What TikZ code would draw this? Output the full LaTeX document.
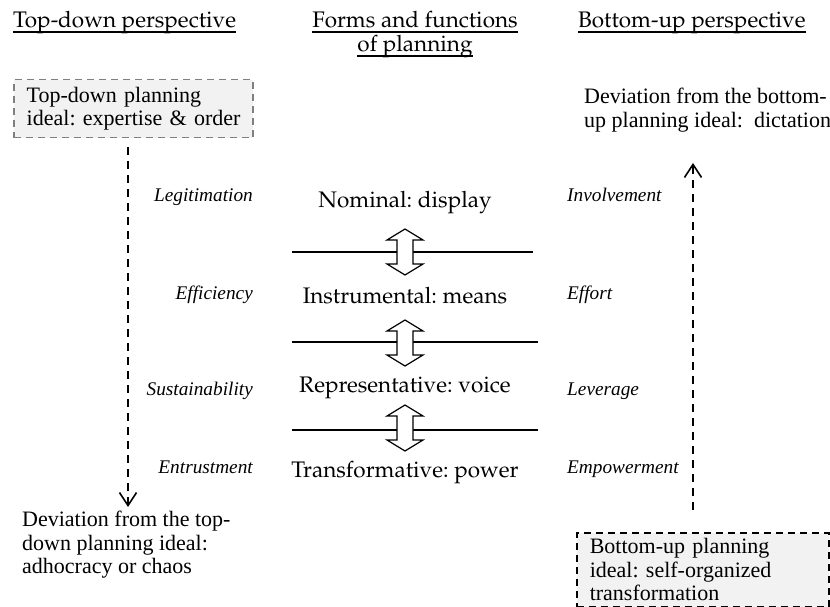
\documentclass[tikz,border=0pt]{standalone}
\usepackage{fontspec}
\setmainfont{Liberation Serif}
\newfontfamily\timesfont{Liberation Serif}
\usepackage[T1,TU]{fontenc}
\usepackage{tikz}
\usetikzlibrary{arrows.meta,positioning,calc}
\definecolor{boxfill}{HTML}{F2F2F2}
\definecolor{boxgray}{HTML}{7F7F7F}
\newcommand{\palfont}{\fontencoding{T1}\fontfamily{ppl}\selectfont}

\begin{document}
\begin{tikzpicture}[x=1pt,y=-1pt,
    every node/.style={inner sep=0pt, font=\timesfont\fontsize{22}{23.5}\selectfont\frenchspacing},
    heading/.style={font=\palfont\fontsize{22.5}{24}\selectfont},
    level/.style={font=\palfont\fontsize{22.5}{24}\selectfont\frenchspacing},
    aspect/.style={font=\timesfont\fontsize{19.3}{22}\selectfont\itshape},
    idealbox/.style={draw, fill=boxfill, line width=1.5pt, dash pattern=on 7pt off 5pt, align=left, inner xsep=13pt, inner ysep=0pt},
    flow/.style={line width=1.8pt, dash pattern=on 8pt off 6pt, -{Straight Barb[length=13pt,width=17pt,line width=1.6pt]}},
    updown/.style={draw, fill=white, line width=1.2pt, line join=miter},
    divider/.style={line width=1.3pt}]
    \useasboundingbox (0,0) rectangle (830,607);
    % headings
    \node[heading, anchor=base west] (ttlTD) at (13,28) {Top-down perspective};
    \node[heading, anchor=base] (ttlForms) at (415,28) {Forms and functions};
    \node[heading, anchor=base] (ttlOf) at (415,52) {of planning};
    \node[heading, anchor=base west] (ttlBU) at (578,28) {Bottom-up perspective};
    \foreach \n in {ttlTD,ttlForms,ttlOf,ttlBU}
        \draw[line width=1.2pt] ([yshift=-4pt]\n.base west) -- ([yshift=-4pt]\n.base east);
    % ideals and deviations
    \node[idealbox, draw=boxgray, text width=213pt, minimum height=58pt, anchor=north west] (idealTD) at (13,79) {\mbox{Top-down planning}\\\mbox{ideal: expertise \& order}};
    \node[idealbox, text width=226pt, minimum height=74pt, anchor=north west] (idealBU) at (576,532) {Bottom-up planning\\ideal: self-organized\\transformation};
    \node[align=left, anchor=west] (devBU) at (584,110) {Deviation from the bottom-\\up planning ideal:\ \ dictation};
    \node[align=left, anchor=west] (devTD) at (22,545) {Deviation from the top-\\down planning ideal:\\adhocracy or chaos};
    % aspects on both sides
    \foreach \y/\l/\r in {201/Legitimation/Involvement,299/Efficiency/Effort,395/Sustainability/Leverage,473/Entrustment/Empowerment}{
        \node[aspect, anchor=base east] (td-\l) at (253,\y) {\l};
        \node[aspect, anchor=base west] (bu-\r) at (567,\y) {\r};
    }
    % forms of planning
    \node[level, anchor=base] (nominal) at (405,207) {Nominal: display};
    \node[level, anchor=base] (instrumental) at (405,303) {Instrumental: means};
    \node[level, anchor=base] (representative) at (405,392) {Representative: voice};
    \node[level, anchor=base] (transformative) at (405,477) {Transformative: power};
    \draw[divider] (292,252) -- (533,252);
    \draw[divider] (292,342) -- (538,342);
    \draw[divider] (292,430) -- (538,430);
    \coordinate (nomIns) at (405,252);
    \coordinate (insRep) at (405,343);
    \coordinate (repTra) at (405,428);
    \foreach \c in {nomIns,insRep,repTra}
        \draw[updown] (\c) ++(0,-23) -- ++(18,11) -- ++(-10,0) -- ++(0,24) -- ++(10,0)
            -- ++(-18,11) -- ++(-18,-11) -- ++(10,0) -- ++(0,-24) -- ++(-10,0) -- cycle;
    % perspectives
    \coordinate (tdStart) at (128,147);
    \coordinate (tdEnd) at (128,507);
    \coordinate (buStart) at (693,510);
    \coordinate (buEnd) at (693,163);
    \draw[flow] (tdStart) -- (tdEnd);
    \draw[flow] (buStart) -- (buEnd);
\end{tikzpicture}
\end{document}
